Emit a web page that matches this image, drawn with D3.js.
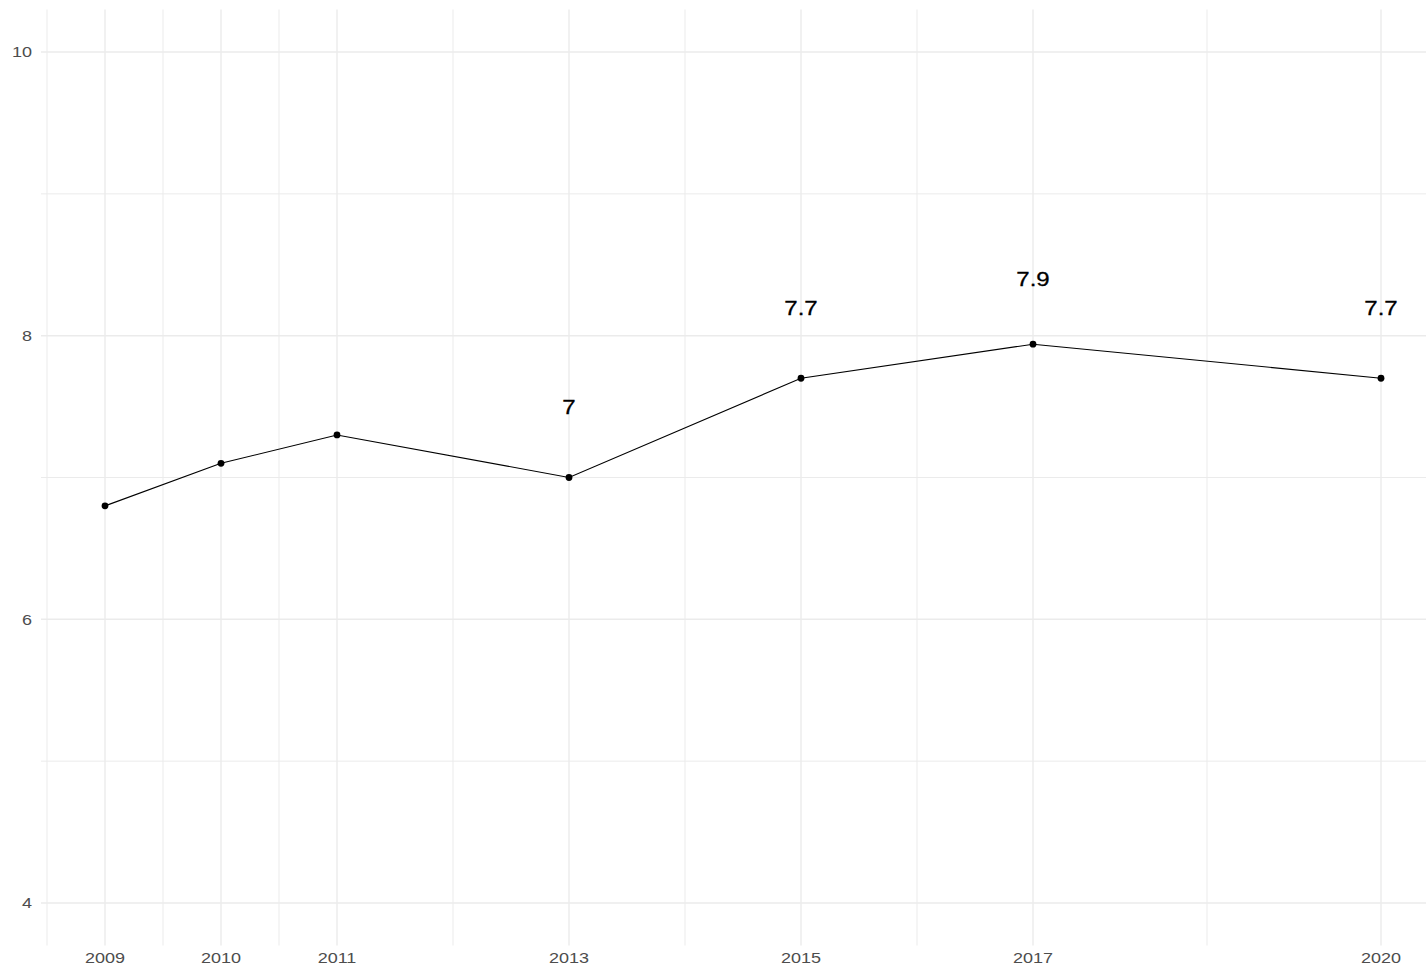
<!DOCTYPE html>
<html lang="en">
<head>
<meta charset="utf-8">
<script src="https://d3js.org/d3.v7.min.js"></script>
<style>
  body { margin: 0; background: #fff; }
  .tick-lab { font-family: "Liberation Sans", Arial, sans-serif; font-size: 15px; fill: #4d4d4d; }
  .val-lab { font-family: "Liberation Sans", Arial, sans-serif; font-size: 20px; fill: #000; stroke: #000; stroke-width: 0.3px; }
</style>
</head>
<body>
<script type="text/javascript">

// data
var years = [2009, 2010, 2011, 2013, 2015, 2017, 2020];
var values = [6.8, 7.1, 7.3, 7.0, 7.7, 7.94, 7.7];
var labelYears = [2013, 2015, 2017, 2020];
var yTicks = [4, 6, 8, 10];
var yMinor = [5, 7, 9];
var xMinor = [2008.5, 2009.5, 2010.5, 2012, 2014, 2016, 2018.5];

var width = 1426, height = 967;

// panel edges (ggplot-like, expanded 5%)
var panelLeft = 41, panelTop = 9.5, panelBottom = 945.5;
// the reference text is a bit stretched sideways
var stretch = 1.2;

var x = d3.scaleLinear().domain([2009, 2020]).range([105, 1381]);
var y = d3.scaleLinear().domain([3.7, 10.3]).range([panelBottom, panelTop]);

var svg = d3.select("body").append("svg")
  .attr("width", width)
  .attr("height", height);

var grid = svg.append("g");

// minor gridlines
grid.selectAll("line.ymin").data(yMinor).enter().append("line")
  .attr("x1", panelLeft).attr("x2", width)
  .attr("y1", function(d) { return y(d); }).attr("y2", function(d) { return y(d); })
  .style("stroke", "#ebebeb").style("stroke-width", 1);

grid.selectAll("line.xmin").data(xMinor).enter().append("line")
  .attr("x1", function(d) { return x(d); }).attr("x2", function(d) { return x(d); })
  .attr("y1", panelTop).attr("y2", panelBottom)
  .style("stroke", "#ebebeb").style("stroke-width", 1);

// major gridlines
grid.selectAll("line.ymaj").data(yTicks).enter().append("line")
  .attr("x1", panelLeft).attr("x2", width)
  .attr("y1", function(d) { return y(d); }).attr("y2", function(d) { return y(d); })
  .style("stroke", "#ebebeb").style("stroke-width", 1.4);

grid.selectAll("line.xmaj").data(years).enter().append("line")
  .attr("x1", function(d) { return x(d); }).attr("x2", function(d) { return x(d); })
  .attr("y1", panelTop).attr("y2", panelBottom)
  .style("stroke", "#ebebeb").style("stroke-width", 1.4);

// tick labels
svg.selectAll("text.ylab").data(yTicks).enter().append("text")
  .attr("class", "tick-lab")
  .attr("transform", function(d) { return "translate(32," + y(d) + ") scale(" + stretch + ",1)"; })
  .attr("dy", "0.36em")
  .attr("text-anchor", "end")
  .text(function(d) { return d; });

svg.selectAll("text.xlab").data(years).enter().append("text")
  .attr("class", "tick-lab")
  .attr("transform", function(d) { return "translate(" + x(d) + ",963) scale(" + stretch + ",1)"; })
  .attr("text-anchor", "middle")
  .text(function(d) { return d; });

var pts = years.map(function(d, i) { return { year: d, value: values[i] }; });

// line
var line = d3.line()
  .x(function(d) { return x(d.year); })
  .y(function(d) { return y(d.value); });

svg.append("path")
  .datum(pts)
  .attr("d", line)
  .attr("fill", "none")
  .style("stroke", "#000")
  .style("stroke-width", 1.1);

svg.selectAll("circle").data(pts).enter().append("circle")
  .attr("cx", function(d) { return x(d.year); })
  .attr("cy", function(d) { return y(d.value); })
  .attr("r", 3.4)
  .attr("fill", "#000");

// value labels, nudged up by 0.5
svg.selectAll("text.val").data(pts.filter(function(d) { return labelYears.indexOf(d.year) >= 0; }))
  .enter().append("text")
  .attr("class", "val-lab")
  .attr("transform", function(d) {
    return "translate(" + x(d.year) + "," + y(Math.round(d.value * 10) / 10 + 0.5) + ") scale(" + stretch + ",1)";
  })
  .attr("dy", "0.36em")
  .attr("text-anchor", "middle")
  .text(function(d) { return Math.round(d.value * 10) / 10; });

</script>
</body>
</html>
